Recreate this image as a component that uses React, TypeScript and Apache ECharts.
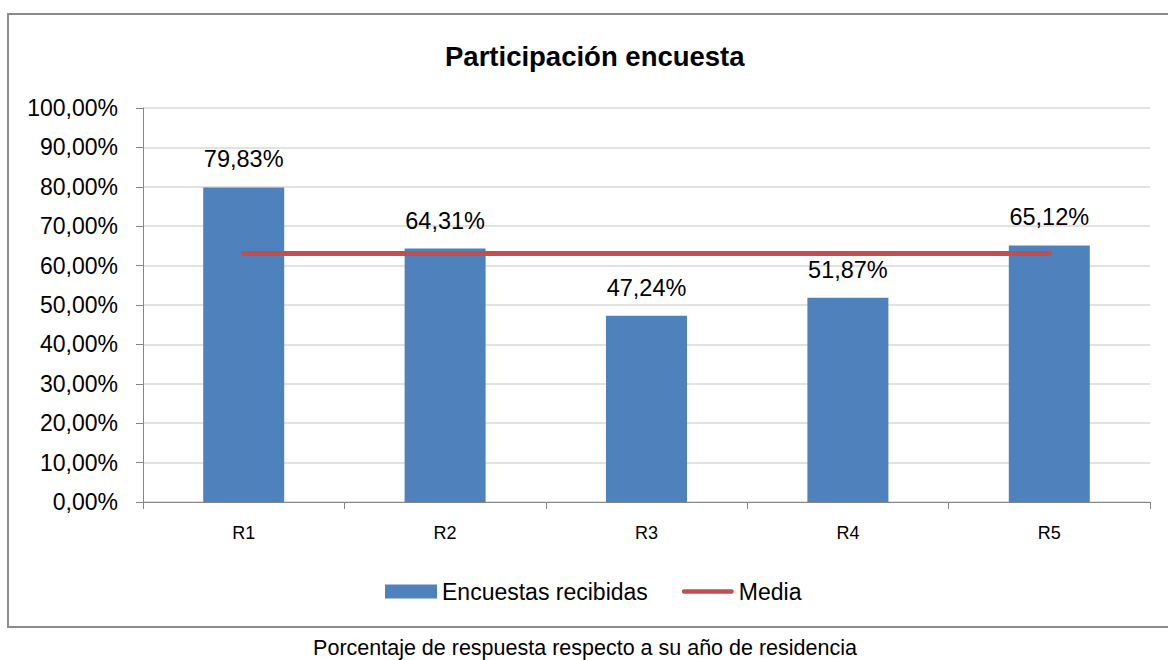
import React, { useEffect, useRef } from "react";
import * as echarts from "echarts";

const categories = ["R1", "R2", "R3", "R4", "R5"];
const encuestas = [79.83, 64.31, 47.24, 51.87, 65.12];
const media = [63.1, 63.1, 63.1, 63.1, 63.1];
const titleText = "Participación encuesta";
const captionText = "Porcentaje de respuesta respecto a su año de residencia";

const FONT = "'Liberation Sans', Arial, sans-serif";
const fmt = (v: number) => v.toFixed(2).replace(".", ",") + "%";

export default function App() {
  const ref = useRef<HTMLDivElement>(null);
  useEffect(() => {
    if (!ref.current) return;
    const chart = echarts.init(ref.current, null, { renderer: "svg" });
    chart.setOption({
      animation: false,
      backgroundColor: "#ffffff",
      textStyle: { fontFamily: FONT, color: "#000" },
      title: {
        text: titleText,
        left: 440,
        top: 37,
        textStyle: { fontFamily: FONT, fontSize: 27.5, fontWeight: "bold", color: "#000" },
      },
      grid: { left: 143, right: 18, top: 108, bottom: 158, containLabel: false },
      legend: {
        left: 380,
        top: 575,
        itemWidth: 52,
        itemHeight: 14,
        itemGap: 34,
        textStyle: { fontFamily: FONT, fontSize: 23, color: "#000" },
        data: [
          { name: "Encuestas recibidas", icon: "rect" },
          {
            name: "Media",
            icon: "path://M2.5,0 H52.5 A2.5,2.5 0 0 1 52.5,5 H2.5 A2.5,2.5 0 0 1 2.5,0 Z",
            itemStyle: { color: "#C0504D" },
          },
        ],
      },
      xAxis: {
        type: "category",
        data: categories,
        axisLine: { show: true, lineStyle: { color: "#868686", width: 1 } },
        axisTick: { show: true, length: 7, lineStyle: { color: "#868686" } },
        axisLabel: { fontFamily: FONT, fontSize: 18, color: "#000", margin: 22 },
      },
      yAxis: {
        type: "value",
        min: 0,
        max: 100,
        interval: 10,
        axisLine: { show: true, lineStyle: { color: "#868686", width: 1 } },
        axisTick: { show: true, length: 7, lineStyle: { color: "#868686" } },
        axisLabel: { fontFamily: FONT, fontSize: 23, color: "#000", margin: 25, formatter: (v: number) => fmt(v) },
        splitLine: { show: true, lineStyle: { color: "#D9D9D9", width: 1.5 } },
      },
      series: [
        {
          name: "Encuestas recibidas",
          type: "bar",
          data: encuestas,
          barWidth: 81,
          itemStyle: { color: "#4F81BD" },
          label: {
            show: true,
            position: "top",
            distance: 16,
            fontFamily: FONT,
            fontSize: 23.5,
            color: "#000",
            formatter: (p: any) => fmt(p.value),
          },
        },
        {
          name: "Media",
          type: "line",
          data: media,
          symbol: "none",
          showSymbol: false,
          lineStyle: { color: "#C0504D", width: 5, cap: "round" },
          itemStyle: { color: "#C0504D" },
          z: 5,
        },
      ],
      graphic: [
        {
          type: "rect",
          shape: { x: 8, y: 14, width: 1175, height: 613 },
          style: { fill: "none", stroke: "#8C8C8C", lineWidth: 2 },
          silent: true,
          z: 100,
        },
        {
          type: "text",
          x: 585,
          y: 648,
          style: {
            text: captionText,
            fontFamily: FONT,
            fontSize: 21.5,
            fill: "#000",
            align: "center",
            verticalAlign: "middle",
          },
        },
      ],
    });
    return () => chart.dispose();
  }, []);
  return (
    <div
      ref={ref}
      style={{ position: "absolute", left: 0, top: 0, width: 1168, height: 660 }}
    />
  );
}
